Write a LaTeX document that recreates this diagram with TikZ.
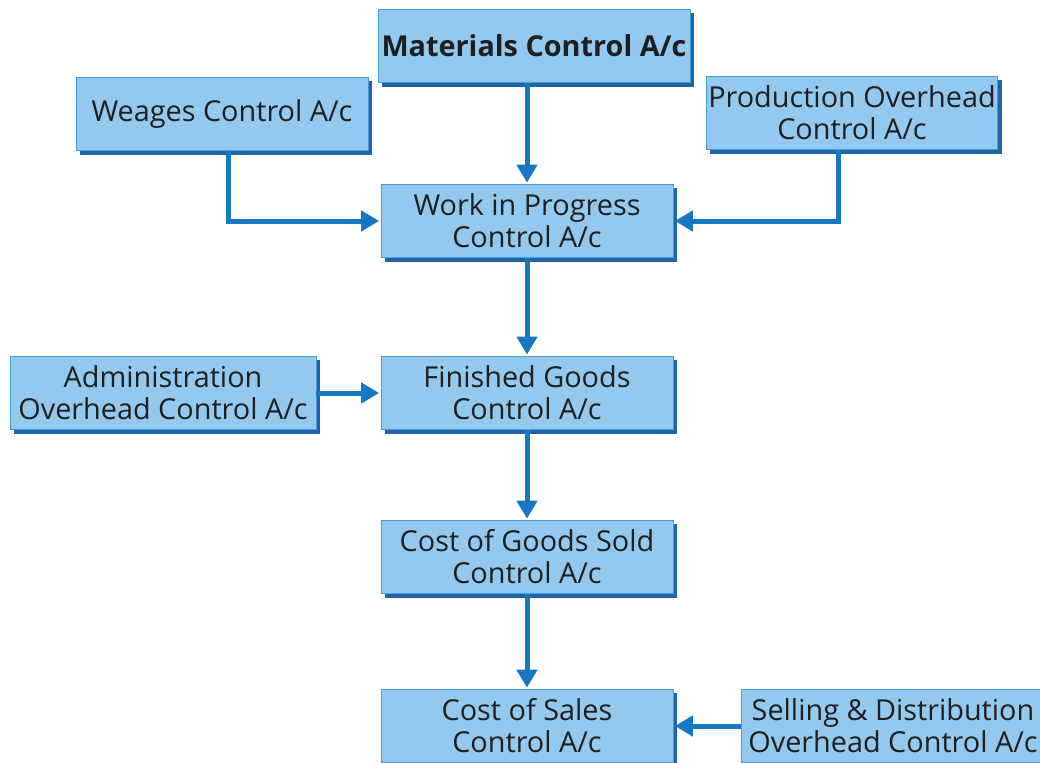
\documentclass[tikz,border=0pt]{standalone}
\usepackage{fontspec}
\setmainfont{Open Sans}
\usepackage{tikz}
\usetikzlibrary{arrows.meta,positioning,shadows}
\definecolor{boxFill}{HTML}{93C9EE}
\definecolor{boxLine}{HTML}{4A9BD8}
\definecolor{boxShadow}{HTML}{1F64A6}
\definecolor{flowColor}{HTML}{1677C2}
\tikzset{account/.style={draw=boxLine, line width=0.6pt, fill=boxFill, align=center,
		font=\fontsize{20.5}{22.8}\selectfont, text=black!88, inner sep=1pt,
		minimum width=7.3cm, minimum height=1.825cm,
		drop shadow={shadow xshift=0.1cm, shadow yshift=-0.1cm, fill=boxShadow, opacity=1}}}
\tikzset{flow/.style={draw=flowColor, line width=0.125cm,
		-{Triangle[width=0.5cm,length=0.45cm]}, shorten >=1pt}}

\begin{document}
\begin{tikzpicture}[x=0.025cm,y=-0.025cm]
	\useasboundingbox (0,0) rectangle (1040,763);
	\node[account, minimum width=7.8cm, font=\fontsize{20.5}{22.8}\selectfont\bfseries] at (534,46) (mat_ac) {Materials Control A/c};
	\node[account] at (222,114) (wag_ac) {Weages Control A/c};
	\node[account, minimum width=7.28cm] at (852,113) (poh_ac) {Production Overhead\\Control A/c};
	\node[account] at (527,221) (wip_ac) {Work in Progress\\Control A/c};
	\node[account, minimum width=7.65cm] at (163,393) (aoh_ac) {Administration\\Overhead Control A/c};
	\node[account] at (527,393) (fg_ac) {Finished Goods\\Control A/c};
	\node[account] at (527,557) (cogs_ac) {Cost of Goods Sold\\Control A/c};
	\node[account] at (527,726) (cos_ac) {Cost of Sales\\Control A/c};
	\node[account, minimum width=7.6cm] at (893,726) (sdoh_ac) {Selling \& Distribution\\Overhead Control A/c};
	% flows into the control accounts
	\draw[flow] (mat_ac.south -| wip_ac.north) -- (wip_ac.north);
	\draw[flow] ([xshift=0.15cm]wag_ac.south) |- (wip_ac.west);
	\draw[flow] ([xshift=-0.35cm]poh_ac.south) |- (wip_ac.east);
	\draw[flow] (wip_ac) -- (fg_ac);
	\draw[flow] (aoh_ac) -- (fg_ac);
	\draw[flow] (fg_ac) -- (cogs_ac);
	\draw[flow] (cogs_ac) -- (cos_ac);
	\draw[flow] (sdoh_ac) -- (cos_ac);
\end{tikzpicture}
\end{document}
